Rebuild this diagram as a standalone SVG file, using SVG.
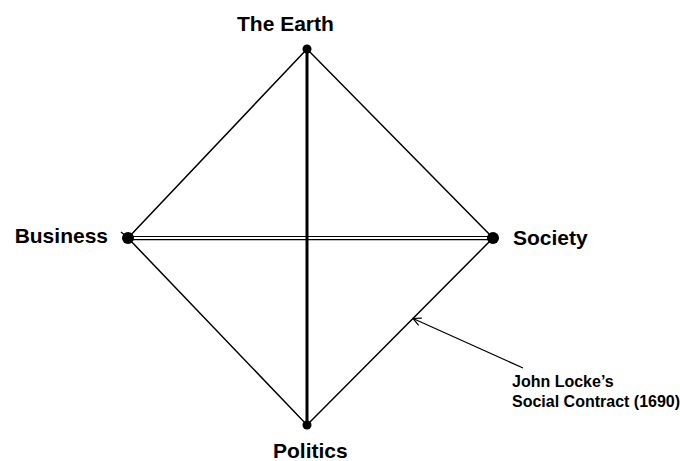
<svg xmlns="http://www.w3.org/2000/svg" width="680" height="461" viewBox="0 0 680 461">
<style>
.lbl{font-family:"Liberation Sans",Arial,sans-serif;font-weight:bold;fill:#000}
.big{font-size:21px}
.small{font-size:16px}
.edge{stroke:#000;fill:none}
</style>
<defs>
<marker id="open" viewBox="0 0 10 10" refX="9" refY="5" markerWidth="10" markerHeight="10" orient="auto" markerUnits="userSpaceOnUse">
<path d="M1,1 L9,5 L1,9" fill="none" stroke="#000" stroke-width="1.2"/>
</marker>
</defs>
<rect width="680" height="461" fill="#fff"/>
<g id="connectors">
<polygon class="edge" stroke-width="1.5" points="307,49 128,238 307,425 493,238"/>
<line class="edge" x1="128" y1="236.5" x2="493" y2="236.5" stroke-width="1.2"/>
<line class="edge" x1="128" y1="239.7" x2="493" y2="239.7" stroke-width="1.2"/>
<line class="edge" x1="307" y1="49" x2="307" y2="425" stroke-width="3"/>
<line class="edge" x1="121" y1="232" x2="126" y2="236" stroke-width="1.5"/>
<line class="edge" x1="523" y1="368" x2="413" y2="318.5" stroke-width="1.2" marker-end="url(#open)"/>
</g>
<g id="earth"><circle cx="307" cy="49" r="4.5"/><text class="lbl big" x="237" y="31">The Earth</text></g>
<g id="business"><circle cx="128" cy="238" r="6"/><text class="lbl big" x="108" y="243" text-anchor="end">Business</text></g>
<g id="society"><circle cx="493" cy="238" r="6"/><text class="lbl big" x="513" y="245">Society</text></g>
<g id="politics"><circle cx="307" cy="425" r="4.5"/><text class="lbl big" x="273" y="458">Politics</text></g>
<g id="note"><text class="lbl small" x="512" y="387">John Locke’s</text><text class="lbl small" x="512" y="407">Social Contract (1690)</text></g>
</svg>
